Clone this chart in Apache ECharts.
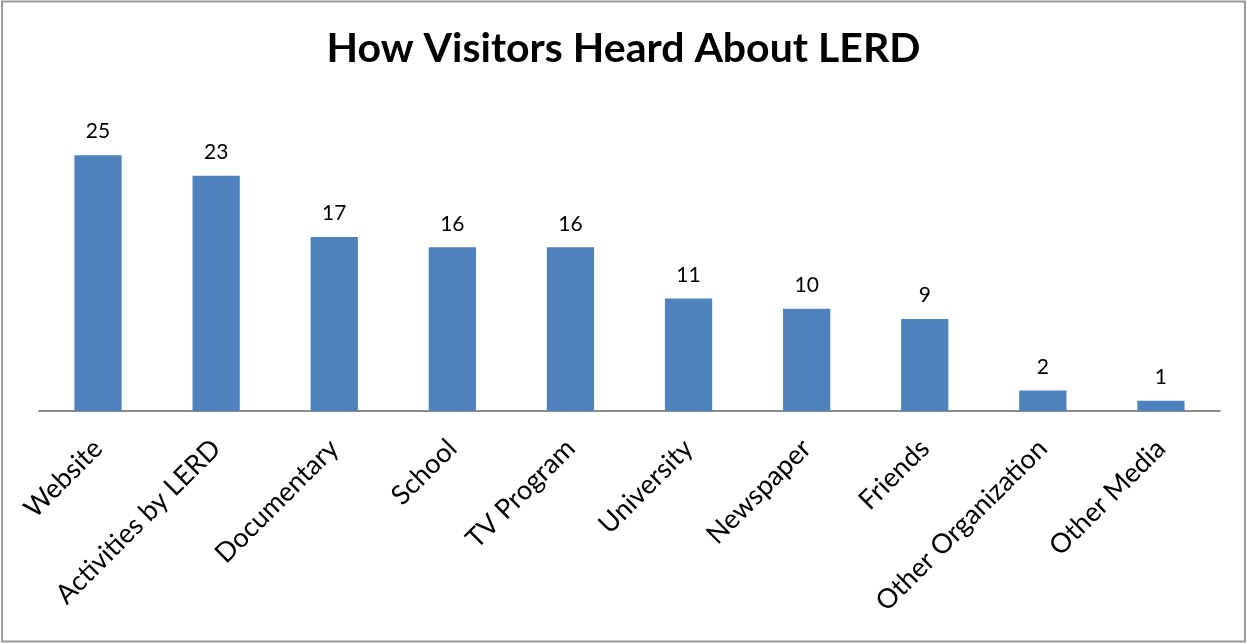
<!DOCTYPE html>
<html>
<head>
<meta charset="utf-8">
<script src="https://cdn.jsdelivr.net/npm/echarts@6/dist/echarts.min.js"></script>
<style>
  html, body { margin: 0; padding: 0; background: #fff; }
  #chart { width: 1247px; height: 644px; }
</style>
</head>
<body>
<div id="chart"></div>
<script>
// Survey answers: where visitors first heard about LERD
const categories = ['Website', 'Activities by LERD', 'Documentary', 'School', 'TV Program',
  'University', 'Newspaper', 'Friends', 'Other Organization', 'Other Media'];
const visitors = [25, 23, 17, 16, 16, 11, 10, 9, 2, 1];
const titleText = 'How Visitors Heard About LERD';

const chart = echarts.init(document.getElementById('chart'), null, { renderer: 'canvas' });
chart.setOption({
  backgroundColor: '#ffffff',
  animation: false,
  title: {
    text: titleText,
    left: 'center',
    top: 23,
    textStyle: { fontFamily: 'Lato', fontWeight: 'bold', fontSize: 41, color: '#000' }
  },
  graphic: [{
    type: 'rect',
    shape: { x: 2, y: 1.5, width: 1243, height: 640 },
    style: { fill: 'none', stroke: '#9a9a9a', lineWidth: 2 },
    silent: true
  }],
  grid: { left: 39, right: 27, top: 104, bottom: 233, containLabel: false },
  xAxis: {
    type: 'category',
    data: categories,
    axisLine: { show: true, lineStyle: { color: '#8c8c8c', width: 2 } },
    axisTick: { show: false },
    axisLabel: {
      rotate: 45,
      interval: 0,
      margin: 33,
      fontFamily: 'Lato',
      fontSize: 27,
      color: '#000'
    }
  },
  yAxis: {
    type: 'value',
    min: 0,
    max: 30,
    show: false,
    splitLine: { show: false }
  },
  series: [{
    type: 'bar',
    data: visitors,
    barWidth: '40%',
    itemStyle: { color: '#4f81bd' },
    label: {
      show: true,
      position: 'top',
      distance: 13,
      fontFamily: 'Lato',
      fontSize: 21,
      color: '#000'
    }
  }]
});
</script>
</body>
</html>
